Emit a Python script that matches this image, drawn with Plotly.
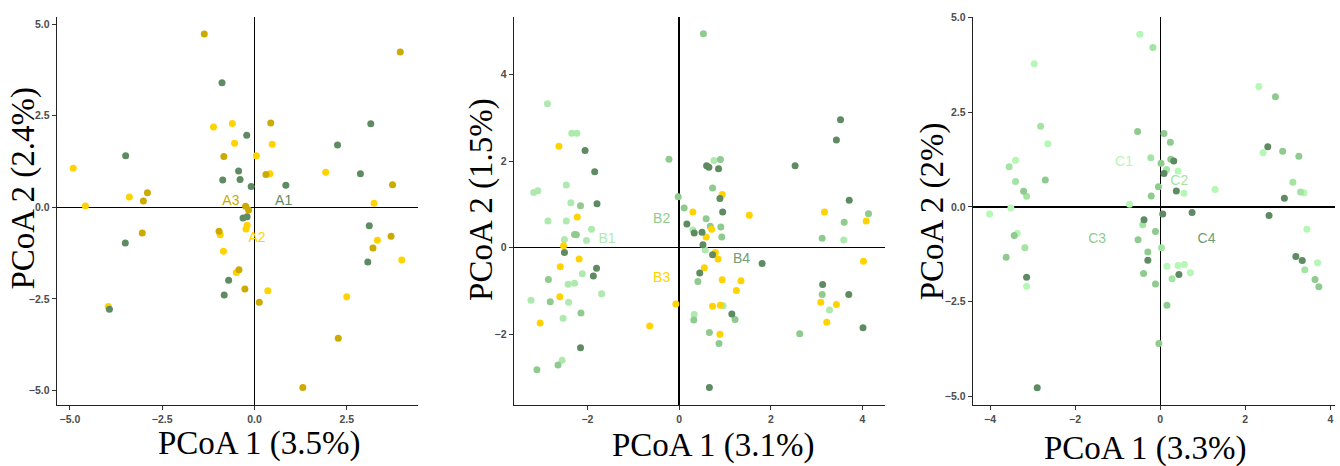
import plotly.graph_objects as go

# ---------------- Panel A ----------------
A1_x = [-0.88, -0.21, 3.15, 2.25, -3.49, -0.43, -0.86, -0.39, -0.09, 0.85, 2.87, -0.31, -0.20, 3.11, -3.50, 3.07, -0.70, -0.82, -3.93]
A1_y = [3.40, 1.97, 2.28, 1.70, 1.41, 0.99, 0.75, 0.76, 0.57, 0.60, 0.92, -0.29, -0.26, -0.50, -0.97, -1.49, -1.99, -2.39, -2.78]
A2_x = [-1.11, -0.60, -0.54, 0.48, 0.05, -4.91, 0.42, 1.93, 3.24, -3.39, -4.58, -0.20, -0.23, -0.93, 3.33, -0.84, 3.99, -0.49, 0.36, 2.50, -3.96]
A2_y = [2.19, 2.29, 1.75, 1.72, 1.41, 1.07, 0.92, 0.96, 0.11, 0.28, 0.04, -0.49, -0.59, -0.75, -0.90, -1.20, -1.44, -1.78, -2.28, -2.44, -2.71]
A3_x = [-1.36, 3.95, 0.44, -0.83, 0.31, 3.74, -2.90, -3.01, -0.24, -0.16, -3.04, -0.96, 3.70, 3.21, -0.42, -0.26, 0.13, 2.27, 1.31]
A3_y = [4.73, 4.24, 2.30, 1.39, 0.90, 0.62, 0.40, 0.17, 0.03, -0.07, -0.70, -0.65, -0.79, -1.11, -1.70, -2.23, -2.59, -3.57, -4.92]
A_labels = ["A1", "A2", "A3"]
A_label_x = [0.79, 0.07, -0.64]
A_label_y = [0.16, -0.86, 0.16]

# ---------------- Panel B ----------------
B1_x = [-2.87, -2.34, -2.23, -2.46, -3.17, -3.08, -2.36, -2.86, -2.46, -1.91, -2.50, -2.02, -2.11, -2.42, -2.28, -1.69, -3.23, -2.41, -2.53, -2.55, 0.76, 0.30, 0.57, 0.96, 0.33, 3.28, 3.59]
B1_y = [3.33, 2.65, 2.65, 1.45, 1.28, 1.32, 1.04, 0.62, 0.62, 0.43, 0.19, 0.17, -0.60, -0.84, -0.82, -1.06, -1.21, -1.26, -1.63, -2.60, 2.02, 0.41, -0.05, -1.34, -1.54, -1.44, 0.18]
B2_x = [-0.22, -2.15, -0.02, 0.11, -2.28, -2.24, -2.85, -2.81, -2.14, -2.64, -3.10, 0.90, 0.73, 0.59, 0.68, 0.91, 3.60, 0.93, 3.12, 0.41, 3.12, 0.32, 1.22, 0.66, 0.87, 2.63, 0.53, 4.13]
B2_y = [2.05, 0.97, 1.18, 0.92, 0.31, 0.30, -0.73, -1.25, -1.51, -2.71, -2.82, 2.04, 1.38, 0.67, 0.50, 0.48, 0.59, 0.25, 0.22, -0.78, -1.08, -1.67, -1.66, -1.96, -2.21, -1.99, 4.95, 0.79]
B3_x = [-2.62, -2.22, -2.52, -2.18, -2.59, -2.60, -3.03, -0.07, -0.64, 0.94, 0.30, 1.53, 3.17, 0.71, 0.59, 0.79, 0.85, 0.55, 0.94, 1.35, 1.25, 3.09, 3.43, 3.22, 0.73, 0.90, 0.89, 4.02, 4.08]
B3_y = [2.35, 0.71, 0.05, -0.26, -0.44, -1.13, -1.74, -1.30, -1.81, 1.23, 0.83, 0.75, 0.83, 0.43, 0.25, -0.11, -0.26, -0.46, -0.74, -0.76, -0.99, -1.26, -1.31, -1.72, -1.35, -1.33, -2.00, -0.31, 0.62]
B4_x = [-2.05, -1.84, -1.79, 0.17, -2.50, -1.80, -1.87, -2.15, 3.43, 2.53, 0.60, 0.65, 0.86, 0.89, 0.95, 3.71, 0.33, 0.50, 0.52, 0.73, 1.81, 0.45, 3.13, 3.70, 1.15, 0.66, 4.01, 3.52]
B4_y = [2.25, 1.76, 1.02, 0.55, -0.11, -0.47, -0.65, -2.31, 2.49, 1.90, 1.90, 1.86, 1.83, 1.14, 0.83, 1.10, 0.34, 0.36, 0.07, -0.16, -0.36, -0.58, -0.85, -1.08, -1.53, -3.23, -1.85, 2.96]
B_labels = ["B1", "B2", "B3", "B4"]
B_label_x = [-1.57, -0.38, -0.38, 1.36]
B_label_y = [0.19, 0.65, -0.72, -0.27]

# ---------------- Panel C ----------------
C1_x = [-0.48, -2.96, 2.32, -2.64, -3.40, 2.42, 0.42, 1.29, 0.56, -3.51, -4.01, 3.45, -3.36, 0.16, 0.42, 0.57, 0.71, 3.70, -3.14, 3.38, -0.72]
C1_y = [4.56, 3.78, 3.18, 1.67, 1.23, 1.43, 0.95, 0.46, 0.36, -0.03, -0.19, -0.59, -0.70, -1.57, -1.55, -1.52, -1.74, -1.48, -2.10, 0.37, 0.07]
C2_x = [-0.17, -2.81, -0.22, -3.55, 0.15, -3.40, 3.12, -3.14, 3.30, -0.41, -3.18, 0.03, 0.28, 3.40]
C2_y = [4.21, 2.13, 1.30, 1.06, 0.99, 0.67, 0.65, 0.28, 0.39, -0.47, -1.08, -1.08, -1.90, -1.66]
C3_x = [2.71, -0.53, 0.09, 0.24, 2.88, 3.26, 0.25, 0.02, -2.70, -0.04, -3.21, -0.21, -0.11, -3.43, -0.52, -3.62, -0.29, -0.39, -0.11, 0.16, -0.03, 3.64, 3.73]
C3_y = [2.91, 1.99, 1.94, 1.71, 1.47, 1.34, 1.26, 1.15, 0.71, 0.53, 0.41, 0.29, -0.65, -0.76, -0.87, -1.33, -1.19, -1.76, -2.04, -2.60, -3.61, -1.92, -2.11]
C4_x = [2.53, 0.32, 0.09, 0.38, 2.92, 0.06, 0.75, 2.56, -0.38, -0.29, 0.44, -3.14, -2.89, 3.19, 3.34]
C4_y = [1.59, 1.21, 0.88, 0.42, 0.23, -0.19, -0.15, -0.23, -0.34, -1.41, -1.79, -1.86, -4.78, -1.31, -1.42]
C_labels = ["C1", "C2", "C3", "C4"]
C_label_x = [-0.85, 0.45, -1.48, 1.09]
C_label_y = [1.17, 0.67, -0.87, -0.87]

# ---------------- Styling ----------------
GREEN_DARK = "#5e8b62"
GOLD_DARK = "#ccaa00"
YELLOW = "#ffd300"
GREEN_LIGHT = "#aeeaae"
GREEN_MED = "#8fcb8f"
GREEN_LIGHTEST = "#b5f7b5"
GREEN_LIGHT2 = "#a3e4a3"

W, H = 1340, 466
PANEL_X = [(57, 418), (514, 885), (973, 1335)]
PANEL_Y = (11, 404)

def fx(px):
    return px / W

def fy(py):
    return 1 - py / H

fig = go.Figure()

def add_points(xs, ys, color, ax):
    fig.add_trace(go.Scatter(
        x=xs, y=ys, mode="markers",
        marker=dict(color=color, size=7, line=dict(width=0)),
        xaxis="x" + ax, yaxis="y" + ax, showlegend=False, hoverinfo="x+y"))

def add_labels(texts, xs, ys, colors, ax):
    fig.add_trace(go.Scatter(
        x=xs, y=ys, mode="text", text=texts,
        textfont=dict(family="Liberation Sans, Arial", size=14, color=colors),
        textposition="middle center",
        xaxis="x" + ax, yaxis="y" + ax, showlegend=False, hoverinfo="skip"))

add_points(A2_x, A2_y, YELLOW, "")
add_points(A3_x, A3_y, GOLD_DARK, "")
add_points(A1_x, A1_y, GREEN_DARK, "")
add_labels(A_labels, A_label_x, A_label_y, [GREEN_DARK, YELLOW, GOLD_DARK], "")

add_points(B1_x, B1_y, GREEN_LIGHT, "2")
add_points(B2_x, B2_y, GREEN_MED, "2")
add_points(B3_x, B3_y, YELLOW, "2")
add_points(B4_x, B4_y, GREEN_DARK, "2")
add_labels(B_labels, B_label_x, B_label_y, [GREEN_LIGHT, GREEN_MED, YELLOW, "#6f9c72"], "2")

add_points(C1_x, C1_y, GREEN_LIGHTEST, "3")
add_points(C2_x, C2_y, GREEN_LIGHT2, "3")
add_points(C3_x, C3_y, GREEN_MED, "3")
add_points(C4_x, C4_y, GREEN_DARK, "3")
add_labels(C_labels, C_label_x, C_label_y, [GREEN_LIGHTEST, GREEN_LIGHT2, GREEN_MED, "#6f9c72"], "3")

tickfont = dict(family="Liberation Sans, Arial", size=10.5, color="#4d4d4d", weight="bold")
common = dict(showgrid=False, showline=True, linecolor="#222222", linewidth=1.3,
              zeroline=True, zerolinecolor="black", zerolinewidth=1.3,
              ticks="outside", ticklen=4, tickwidth=1, tickcolor="#333333",
              tickfont=tickfont, fixedrange=True, ticklabeloverflow="allow")

ydom = [fy(PANEL_Y[1]), fy(PANEL_Y[0])]
xdoms = [[fx(a), fx(b)] for a, b in PANEL_X]

fig.update_layout(
    width=W, height=H,
    margin=dict(l=0, r=0, t=0, b=0),
    plot_bgcolor="white", paper_bgcolor="white",
    hovermode=False,
    xaxis=dict(domain=xdoms[0], anchor="y", range=[-5.35, 4.43],
               tickvals=[-5, -2.5, 0, 2.5], tickformat=".1f", **common),
    yaxis=dict(domain=ydom, anchor="x", range=[-5.39, 5.2],
               tickvals=[-5, -2.5, 0, 2.5, 5], tickformat=".1f", **common),
    xaxis2=dict(domain=xdoms[1], anchor="y2", range=[-3.6, 4.49],
                tickvals=[-2, 0, 2, 4], **common),
    yaxis2=dict(domain=ydom, anchor="x2", range=[-3.63, 5.34],
                tickvals=[-2, 0, 2, 4], **common),
    xaxis3=dict(domain=xdoms[2], anchor="y3", range=[-4.4, 4.11],
                tickvals=[-4, -2, 0, 2, 4], **common),
    yaxis3=dict(domain=ydom, anchor="x3", range=[-5.23, 5.02],
                tickvals=[-5, -2.5, 0, 2.5, 5], tickformat=".1f", **common),
)

title_font = dict(family="Liberation Serif, Times New Roman", size=33, color="black")
x_titles = ["PCoA 1 (3.5%)", "PCoA 1 (3.1%)", "PCoA 1 (3.3%)"]
x_title_pos = [(259.5, 443), (713, 445), (1145, 448)]
y_titles = ["PCoA 2 (2.4%)", "PCoA 2 (1.5%)", "PCoA 2 (2%)"]
y_title_pos = [(24, 185), (482, 196.5), (932, 208)]

for t, (px, py) in zip(x_titles, x_title_pos):
    fig.add_annotation(text=t, x=fx(px), y=fy(py), xref="paper", yref="paper",
                       xanchor="center", yanchor="middle", showarrow=False, font=title_font)
for t, (px, py) in zip(y_titles, y_title_pos):
    fig.add_annotation(text=t, x=fx(px), y=fy(py), xref="paper", yref="paper",
                       xanchor="center", yanchor="middle", showarrow=False,
                       textangle=-90, font=title_font)

# remove the browser's default 8px page margin so the figure fills the window exactly
fig.write_html("out.html",
               config={"displayModeBar": False, "staticPlot": True},
               post_script="document.body.style.margin='0';document.body.style.padding='0';document.documentElement.style.overflow='hidden';")
